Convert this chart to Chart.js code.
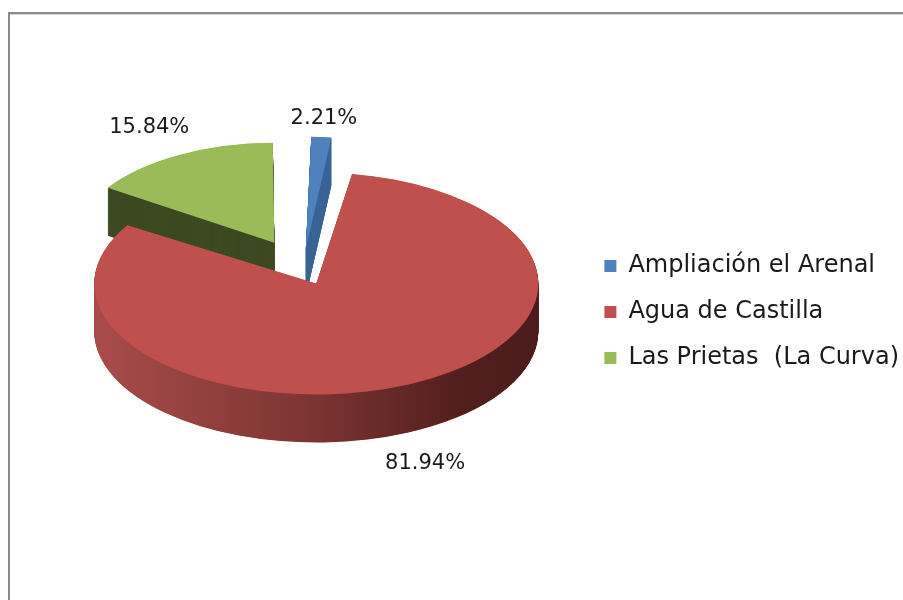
<!DOCTYPE html>
<html lang="es">
<head>
    <meta charset="UTF-8">
    <title>Distribución por localidad</title>
    <script src="https://cdn.jsdelivr.net/npm/chart.js"></script>
    <style>
        body { margin: 0; background: #fff; overflow: hidden; }
        .frame {
            position: absolute; left: 8px; top: 12px;
            width: 1000px; height: 700px;
            border-top: 2px solid #8c8c8c; border-left: 2px solid #8c8c8c;
            box-shadow: inset 0 1px 0 #d4d4d4;
        }
        #wrap { position: absolute; left: 0; top: 0; width: 903px; height: 600px; }
    </style>
</head>
<body>
    <div class="frame"></div>
    <div id="wrap"><canvas id="pie"></canvas></div>

    <script>
        const labels = ['Ampliación el Arenal', 'Agua de Castilla', 'Las Prietas  (La Curva)'];
        const values = [2.21, 81.94, 15.84];
        const pctLabels = ['2.21%', '81.94%', '15.84%'];
        const colors = ['#4f81bd', '#c0504d', '#9bbb59'];
        const explode = [160, 128, 240];

        // 3D look: where the pie lands on screen, how flat, how thick
        const TX = 303, TY = 269, K = 0.5, DEPTH = 48;
        const FONT = "'DejaVu Sans', sans-serif";

        const pie3d = {
            id: 'pie3d',
            beforeDatasetsDraw(chart) {
                const ctx = chart.ctx;
                const arcs = chart.getDatasetMeta(0).data;
                const cx = arcs[0].x, cy = arcs[0].y;
                ctx.save();
                ctx.translate(TX, TY);
                ctx.scale(1, K);
                ctx.translate(-cx, -cy);

                const redSide = ctx.createLinearGradient(cx - 210, 0, cx + 235, 0);
                redSide.addColorStop(0, '#a64b49');
                redSide.addColorStop(0.45, '#7d3533');
                redSide.addColorStop(0.8, '#521f1e');
                redSide.addColorStop(1, '#4a1b1b');
                const sides = ['#3b6596', redSide, '#3e4a23'];

                // stack darker copies downward to build the walls
                for (let d = DEPTH / K; d >= 1; d -= 1) {
                    arcs.forEach((arc, i) => {
                        const wall = Object.create(arc);
                        wall.options = {...arc.options, backgroundColor: sides[i], borderWidth: 0};
                        ctx.save();
                        ctx.translate(0, d);
                        wall.draw(ctx);
                        ctx.restore();
                    });
                }
            },
            afterDatasetsDraw(chart) {
                const ctx = chart.ctx;
                ctx.restore();
                const arcs = chart.getDatasetMeta(0).data;
                ctx.save();
                ctx.font = '21px ' + FONT;
                ctx.fillStyle = '#1a1a1a';
                ctx.textAlign = 'center';
                ctx.textBaseline = 'middle';
                arcs.forEach((arc, i) => {
                    const m = (arc.startAngle + arc.endAngle) / 2;
                    const L = arc.outerRadius + explode[i] / 4 + 72;
                    const x = TX + Math.cos(m) * L;
                    let y = TY + Math.sin(m) * L * K;
                    if (Math.sin(m) > 0) y += DEPTH + 13;
                    ctx.fillText(pctLabels[i], x, y);
                });
                ctx.restore();
            }
        };

        new Chart(document.getElementById('pie'), {
            type: 'pie',
            data: {
                labels: labels,
                datasets: [{
                    data: values,
                    backgroundColor: colors,
                    borderWidth: 0,
                    offset: explode,
                    clip: false
                }]
            },
            options: {
                responsive: true,
                maintainAspectRatio: false,
                animation: false,
                radius: 190,
                layout: { padding: { top: 24, right: -6 } },
                plugins: {
                    tooltip: { enabled: false },
                    legend: {
                        position: 'right',
                        labels: {
                            font: { family: FONT, size: 24 },
                            color: '#1a1a1a',
                            boxWidth: 12,
                            boxHeight: 12,
                            padding: 22
                        }
                    }
                }
            },
            plugins: [pie3d]
        });
    </script>
</body>
</html>
